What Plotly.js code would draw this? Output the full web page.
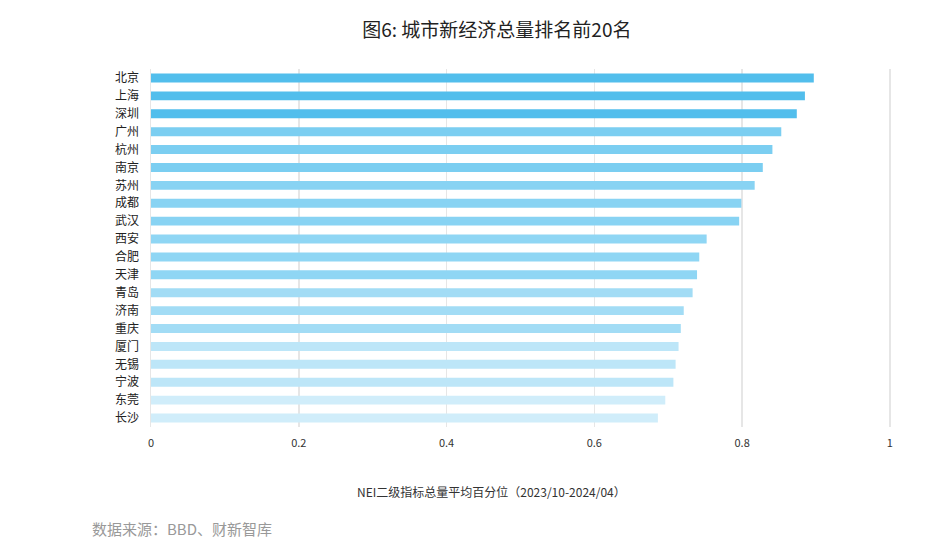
<!DOCTYPE html>
<html>
<head>
<meta charset="utf-8">
<script src="https://cdn.plot.ly/plotly-3.0.1.min.js"></script>
<style>html,body{margin:0;padding:0;background:#fff;}#chart{width:934px;height:548px;}</style>
</head>
<body>
<div id="chart"></div>
<script>
const cities = ["北京","上海","深圳","广州","杭州","南京","苏州","成都","武汉","西安","合肥","天津","青岛","济南","重庆","厦门","无锡","宁波","东莞","长沙"];
const values = [0.897,0.885,0.874,0.853,0.841,0.828,0.817,0.799,0.796,0.752,0.742,0.739,0.733,0.721,0.717,0.714,0.710,0.707,0.696,0.686];
const barColors = ["#52BEEC","#52BEEC","#52BEEC","#7BCEF1","#7BCEF1","#7BCEF1","#88D3F3","#88D3F3","#88D3F3","#8FD6F4","#8FD6F4","#8FD6F4","#A2DCF5","#A2DCF5","#A2DCF5","#BDE6F8","#BDE6F8","#BDE6F8","#D0EDFA","#D0EDFA"];
const xTicks = [0,0.2,0.4,0.6,0.8,1];
const xTickText = ["0","0.2","0.4","0.6","0.8","1"];
const xTitle = "NEI二级指标总量平均百分位（2023/10-2024/04）";
const font = "Noto Sans CJK SC, Noto Sans, sans-serif";

Plotly.newPlot("chart", [{
  type: "bar",
  orientation: "h",
  y: cities,
  x: values,
  width: 0.5,
  marker: {color: barColors},
  hoverinfo: "x+y"
}], {
  width: 934, height: 548,
  margin: {l: 151, r: 43, t: 69, b: 121},
  paper_bgcolor: "#fff", plot_bgcolor: "#fff",
  font: {family: font, color: "#333"},
  title: {text: "图6: 城市新经济总量排名前20名", x: 0.532, xanchor: "center", y: 0.945, yanchor: "middle", font: {size: 19, color: "#222", family: font}},
  xaxis: {
    range: [0, 1.0015], tickvals: xTicks, ticktext: xTickText,
    showgrid: true, gridcolor: "#E6E6E6", gridwidth: 1.5, zeroline: false,
    showline: false, ticks: "outside", ticklen: 6, tickcolor: "rgba(0,0,0,0)",
    tickfont: {size: 11, color: "#333"},
    fixedrange: true
  },
  yaxis: {
    autorange: "reversed", categoryorder: "array", categoryarray: cities,
    showgrid: false, zeroline: false, showline: true, linecolor: "#E6E6E6", linewidth: 1.5,
    ticks: "", ticklabelstandoff: 8, tickfont: {size: 12, color: "#222"},
    fixedrange: true
  },
  annotations: [{
    text: xTitle, xref: "paper", yref: "paper",
    x: 0.46, y: -0.179, xanchor: "center", yanchor: "middle", showarrow: false,
    font: {size: 12, color: "#333", family: font}
  }, {
    text: "数据来源：BBD、财新智库", xref: "paper", yref: "paper",
    x: -0.083, y: -0.283, xanchor: "left", yanchor: "middle", showarrow: false,
    font: {size: 15, color: "#999", family: font}
  }],
  showlegend: false
}, {displayModeBar: false, staticPlot: true});
</script>
</body>
</html>
